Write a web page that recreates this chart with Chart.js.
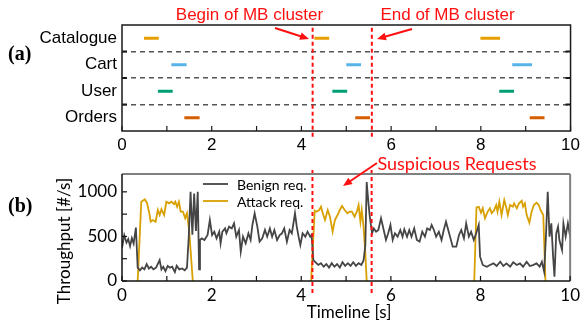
<!DOCTYPE html>
<html>
<head>
<meta charset="utf-8">
<script src="https://cdn.jsdelivr.net/npm/chart.js@4.4.1/dist/chart.umd.min.js"></script>
<style>
  html, body { margin: 0; padding: 0; background: #fff; }
  #wrap { position: relative; width: 584px; height: 324px; overflow: hidden; }
  #top { position: absolute; left: 0; top: 0; }
  #bottom { position: absolute; left: 0; top: 152px; }
</style>
</head>
<body>
<div id="wrap">
  <canvas id="top" width="584" height="156"></canvas>
  <canvas id="bottom" width="584" height="172"></canvas>
</div>
<script>
// (a) service calls per microservice
const categories = ['Catalogue', 'Cart', 'User', 'Orders']
const segColors = ['#E69F00', '#56B4E9', '#009E73', '#D55E00']
const segStart = [
  [0.49, 4.29, 7.99],
  [1.10, 5.00, 8.70],
  [0.80, 4.69, 8.41],
  [1.39, 5.20, 9.09]
]
const segEnd = [
  [0.82, 4.62, 8.43],
  [1.44, 5.33, 9.14],
  [1.13, 5.02, 8.74],
  [1.73, 5.53, 9.42]
]
const mbBegin = 4.25
const mbEnd = 5.57
const rowLines = [1, 2, 3]
const xTicks = [0, 1, 2, 3, 4, 5, 6, 7, 8, 9, 10]
const throughputTicks = [0, 250, 500, 750, 1000]

// (b) throughput
const benignTime = [
  0.00, 0.05, 0.10, 0.14, 0.18, 0.22, 0.26, 0.31, 0.35, 0.40, 0.45, 0.50, 0.55, 0.60, 0.65, 0.70,
  0.76, 0.84, 0.88, 0.92, 0.97, 1.02, 1.07, 1.12, 1.18, 1.22, 1.28, 1.34, 1.40, 1.45, 1.49, 1.53,
  1.57, 1.61, 1.65, 1.69, 1.72, 1.74, 1.78, 1.84, 1.91, 1.96, 2.01, 2.06, 2.11, 2.17, 2.20, 2.24,
  2.30, 2.33, 2.39, 2.45, 2.50, 2.55, 2.61, 2.65, 2.70, 2.76, 2.82, 2.87, 2.91, 2.96, 3.02, 3.07,
  3.13, 3.19, 3.24, 3.30, 3.35, 3.40, 3.46, 3.52, 3.57, 3.62, 3.68, 3.74, 3.79, 3.86, 3.90, 3.94,
  3.98, 4.03, 4.09, 4.14, 4.20, 4.23, 4.27, 4.32, 4.38, 4.44, 4.50, 4.56, 4.62, 4.68, 4.74, 4.80,
  4.86, 4.92, 4.98, 5.04, 5.10, 5.16, 5.22, 5.28, 5.34, 5.39, 5.43, 5.46, 5.50, 5.53, 5.58, 5.62,
  5.67, 5.72, 5.78, 5.84, 5.89, 5.94, 5.99, 6.04, 6.09, 6.15, 6.21, 6.26, 6.30, 6.36, 6.41, 6.46,
  6.52, 6.58, 6.64, 6.70, 6.76, 6.81, 6.87, 6.91, 6.96, 7.01, 7.07, 7.13, 7.18, 7.23, 7.28, 7.33,
  7.38, 7.46, 7.52, 7.57, 7.63, 7.68, 7.74, 7.79, 7.85, 7.90, 7.96, 7.99, 8.05, 8.14, 8.21, 8.29,
  8.36, 8.44, 8.51, 8.58, 8.66, 8.73, 8.81, 8.88, 8.95, 9.03, 9.10, 9.17, 9.25, 9.32, 9.37, 9.42,
  9.46, 9.50, 9.54, 9.58, 9.62, 9.65, 9.69, 9.73, 9.76, 9.82, 9.85, 9.90, 9.95, 10.00
]
const benignRate = [
  370, 515, 430, 470, 390, 480, 420, 600, 150, 120, 150, 130, 190, 140, 160, 130,
  150, 235, 130, 160, 110, 170, 150, 160, 100, 170, 130, 140, 120, 150, 500, 1000,
  520, 980, 560, 1000, 130, 460, 478, 460, 516, 684, 516, 553, 478, 553, 422, 553,
  590, 535, 609, 590, 646, 497, 572, 329, 497, 422, 535, 460, 628, 759, 609, 441,
  478, 572, 497, 590, 497, 572, 460, 516, 535, 590, 441, 572, 535, 759, 609, 497,
  403, 535, 497, 553, 497, 516, 235, 210, 180, 200, 160, 190, 150, 200, 160, 190,
  150, 210, 170, 200, 170, 210, 170, 200, 180, 230, 400, 1110, 870, 720, 535, 590,
  553, 572, 703, 572, 460, 535, 628, 460, 535, 497, 572, 497, 580, 497, 572, 497,
  590, 460, 441, 553, 497, 590, 572, 628, 572, 497, 553, 460, 572, 665, 572, 478,
  385, 385, 516, 572, 478, 646, 497, 553, 460, 530, 628, 273, 180, 160, 179, 198,
  168, 216, 168, 198, 160, 209, 179, 198, 160, 216, 168, 179, 198, 160, 216, 104,
  500, 1000, 497, 646, 273, 48, 535, 609, 460, 348, 646, 497, 646, 497
]
const attackTime = [
  0.35, 0.43, 0.51, 0.56, 0.61, 0.64, 0.69, 0.75, 0.80, 0.84, 0.88, 0.94, 0.99, 1.05, 1.10, 1.16,
  1.19, 1.23, 1.27, 1.31, 1.36, 1.41, 1.45, 1.50, 1.58, 2.50,
  4.22, 4.30, 4.34, 4.40, 4.44, 4.48, 4.53, 4.59, 4.64, 4.70, 4.75, 4.81, 4.86, 4.91, 4.97, 5.03,
  5.08, 5.13, 5.19, 5.24, 5.28, 5.32, 5.35, 5.39, 5.43, 5.46, 6.50,
  7.86, 7.91, 7.96, 8.01, 8.05, 8.10, 8.16, 8.21, 8.25, 8.30, 8.35, 8.38, 8.42, 8.47, 8.53, 8.57,
  8.61, 8.66, 8.72, 8.75, 8.81, 8.86, 8.92, 8.95, 8.99, 9.03, 9.09, 9.14, 9.19, 9.25, 9.30, 9.34,
  9.40, 9.45
]
const attackRate = [
  0, 889, 916, 871, 759, 665, 684, 665, 796, 740, 804, 740, 889, 871, 889, 863,
  889, 833, 889, 777, 777, 703, 760, 560, 0, null,
  0, 790, 777, 796, 833, 759, 684, 796, 721, 553, 684, 740, 796, 841, 796, 759,
  777, 777, 721, 777, 852, 665, 796, 609, 310, 0, null,
  0, 826, 833, 766, 815, 703, 777, 815, 759, 789, 852, 777, 889, 740, 908, 833,
  740, 852, 833, 871, 815, 871, 900, 833, 871, 740, 654, 777, 852, 878, 852, 796,
  740, 0
]

const RED = '#FF1010'
const topFont = 'Liberation Sans'
const botFont = 'Lato'

function markerSet(x, yLow, yHigh) {
  return {
    data: [{ x: x, y: yLow }, { x: x, y: yHigh }],
    borderColor: RED,
    borderWidth: 2,
    borderDash: [4, 3],
    pointRadius: 0,
    clip: false,
    order: -1
  }
}

function arrow(ctx, x1, y1, x2, y2) {
  const ang = Math.atan2(y2 - y1, x2 - x1)
  const len = 9
  const hw = 3.8
  ctx.beginPath()
  ctx.moveTo(x1, y1)
  ctx.lineTo(x2 - Math.cos(ang) * len * 0.8, y2 - Math.sin(ang) * len * 0.8)
  ctx.stroke()
  ctx.beginPath()
  ctx.moveTo(x2, y2)
  ctx.lineTo(x2 - Math.cos(ang) * len - Math.sin(ang) * hw, y2 - Math.sin(ang) * len + Math.cos(ang) * hw)
  ctx.lineTo(x2 - Math.cos(ang) * len + Math.sin(ang) * hw, y2 - Math.sin(ang) * len - Math.cos(ang) * hw)
  ctx.closePath()
  ctx.fill()
}

function seg(ctx, x1, y1, x2, y2) {
  ctx.beginPath()
  ctx.moveTo(x1, y1)
  ctx.lineTo(x2, y2)
  ctx.stroke()
}

// segments, one dataset per microservice
const segmentSets = categories.map((name, i) => {
  const row = categories.length - 0.5 - i
  const data = []
  segStart[i].forEach((s, k) => {
    data.push({ x: s, y: row }, { x: segEnd[i][k], y: row }, { x: segEnd[i][k], y: null })
  })
  return {
    label: name,
    data: data,
    borderColor: segColors[i],
    borderWidth: 3,
    borderCapStyle: 'butt',
    pointRadius: 0,
    spanGaps: false
  }
})

const topDecor = {
  id: 'topDecor',
  afterDraw(chart) {
    const { ctx, chartArea: a, scales } = chart
    ctx.save()
    ctx.strokeStyle = '#1a1a1a'
    ctx.lineWidth = 1.5
    ctx.strokeRect(a.left, a.top, a.right - a.left, a.bottom - a.top)

    ctx.lineWidth = 1.2
    xTicks.forEach(v => {
      const px = scales.x.getPixelForValue(v)
      seg(ctx, px, a.bottom, px, a.bottom - 5)
    })
    ctx.lineWidth = 2
    rowLines.forEach(v => {
      const py = scales.rows.getPixelForValue(v)
      seg(ctx, a.left, py, a.left + 5, py)
      seg(ctx, a.right - 5, py, a.right, py)
    })

    ctx.fillStyle = '#000'
    ctx.font = 'bold 20px "Liberation Serif"'
    ctx.textAlign = 'left'
    ctx.textBaseline = 'middle'
    ctx.fillText('(a)', 8, 55)

    ctx.fillStyle = RED
    ctx.strokeStyle = RED
    ctx.font = '17px "' + topFont + '"'
    ctx.textAlign = 'center'
    ctx.textBaseline = 'alphabetic'
    ctx.fillText('Begin of MB cluster', 249.5, 20)
    ctx.fillText('End of MB cluster', 447.5, 20)
    ctx.lineWidth = 2
    arrow(ctx, 275, 28, 309, 39)
    arrow(ctx, 412, 29, 377, 39)
    ctx.restore()
  }
}

new Chart(document.getElementById('top'), {
  type: 'line',
  data: {
    datasets: segmentSets.concat([markerSet(mbBegin, -0.22, 3.95), markerSet(mbEnd, -0.22, 3.95)])
  },
  options: {
    responsive: false,
    animation: false,
    layout: { padding: { left: 0, right: 10, top: 25, bottom: 0 } },
    plugins: { legend: { display: false }, tooltip: { enabled: false } },
    scales: {
      x: {
        type: 'linear', min: 0, max: 10,
        afterBuildTicks: s => { s.ticks = xTicks.map(v => ({ value: v })) },
        afterFit: s => { s.height = 25 },
        grid: { display: false, drawTicks: false },
        border: { display: false },
        ticks: {
          autoSkip: false, maxRotation: 0, padding: 4, color: '#000',
          font: { family: topFont, size: 17 },
          callback: v => (v % 2 === 0 ? String(v) : '')
        }
      },
      y: {
        type: 'linear', min: 0, max: 4,
        afterBuildTicks: s => { s.ticks = [3.5, 2.5, 1.5, 0.5].map(v => ({ value: v })) },
        afterFit: s => { s.width = 122 },
        grid: { display: false, drawTicks: false },
        border: { display: false },
        ticks: {
          padding: 5, color: '#000',
          font: { family: topFont, size: 17 },
          callback: v => categories[Math.round(3.5 - v)]
        }
      },
      rows: {
        type: 'linear', position: 'right', min: 0, max: 4,
        afterBuildTicks: s => { s.ticks = rowLines.map(v => ({ value: v })) },
        afterFit: s => { s.width = 0 },
        grid: { color: '#555', lineWidth: 1.5, drawTicks: false },
        border: { display: false, dash: [5, 4] },
        ticks: { display: false }
      }
    }
  },
  plugins: [topDecor]
})

const bottomDecor = {
  id: 'bottomDecor',
  afterDraw(chart) {
    const { ctx, chartArea: a, scales } = chart
    ctx.save()
    ctx.lineWidth = 2
    ctx.strokeStyle = '#808080'
    seg(ctx, a.left, a.top, a.right, a.top)
    seg(ctx, a.right, a.top, a.right, a.bottom)
    ctx.strokeStyle = '#111'
    ctx.lineWidth = 1.5
    seg(ctx, a.left, a.top, a.left, a.bottom)
    seg(ctx, a.left, a.bottom, a.right, a.bottom)

    ctx.lineWidth = 1.2
    xTicks.forEach(v => {
      const px = scales.x.getPixelForValue(v)
      seg(ctx, px, a.bottom, px, a.bottom - 5)
    })
    throughputTicks.forEach(v => {
      const py = scales.y.getPixelForValue(v)
      seg(ctx, a.left, py, a.left + 5, py)
    })

    ctx.fillStyle = '#000'
    ctx.font = 'bold 20px "Liberation Serif"'
    ctx.textAlign = 'left'
    ctx.textBaseline = 'middle'
    ctx.fillText('(b)', 8, 55)

    // legend
    const legendItems = [['Benign req.', '#454545', 32], ['Attack req.', '#D8A000', 49]]
    ctx.font = '14px "' + botFont + '"'
    legendItems.forEach(it => {
      ctx.strokeStyle = it[1]
      ctx.lineWidth = 1.8
      seg(ctx, 203, it[2], 228, it[2])
      ctx.fillStyle = '#000'
      ctx.fillText(it[0], 237, it[2] + 1)
    })

    // axis titles
    ctx.font = '17px "' + botFont + '"'
    ctx.textAlign = 'center'
    ctx.fillText('Timeline [s]', 349, 161)
    ctx.save()
    ctx.translate(65, 89)
    ctx.rotate(-Math.PI / 2)
    ctx.fillText('Throughput [#/s]', 0, 0)
    ctx.restore()

    // annotation
    ctx.fillStyle = RED
    ctx.strokeStyle = RED
    ctx.font = '18px "' + botFont + '"'
    ctx.textBaseline = 'alphabetic'
    ctx.fillText('Suspicious Requests', 457, 18)
    ctx.lineWidth = 2
    arrow(ctx, 377, 11, 343, 34)
    ctx.restore()
  }
}

new Chart(document.getElementById('bottom'), {
  type: 'line',
  data: {
    datasets: [
      {
        label: 'Benign req.',
        data: benignTime.map((t, i) => ({ x: t, y: benignRate[i] })),
        borderColor: '#454545', borderWidth: 1.8, pointRadius: 0, tension: 0
      },
      {
        label: 'Attack req.',
        data: attackTime.map((t, i) => ({ x: t, y: attackRate[i] })),
        borderColor: '#D8A000', borderWidth: 1.8, pointRadius: 0, tension: 0, spanGaps: false
      },
      markerSet(mbBegin, -135, 1278),
      markerSet(mbEnd, -135, 1278)
    ]
  },
  options: {
    responsive: false,
    animation: false,
    layout: { padding: { left: 0, right: 10, top: 22, bottom: 0 } },
    plugins: { legend: { display: false }, tooltip: { enabled: false } },
    scales: {
      x: {
        type: 'linear', min: 0, max: 10,
        afterBuildTicks: s => { s.ticks = xTicks.map(v => ({ value: v })) },
        afterFit: s => { s.height = 43 },
        grid: { display: false, drawTicks: false },
        border: { display: false },
        ticks: {
          autoSkip: false, maxRotation: 0, padding: 4, color: '#000',
          font: { family: botFont, size: 17 },
          callback: v => (v % 2 === 0 ? String(v) : '')
        }
      },
      y: {
        type: 'linear', min: 0, max: 1200,
        afterBuildTicks: s => { s.ticks = throughputTicks.map(v => ({ value: v })) },
        afterFit: s => { s.width = 122 },
        grid: { display: false, drawTicks: false },
        border: { display: false },
        ticks: {
          padding: 5, color: '#000',
          font: { family: botFont, size: 17 },
          callback: v => (v % 500 === 0 ? String(v) : '')
        }
      }
    }
  },
  plugins: [bottomDecor]
})
</script>
</body>
</html>
